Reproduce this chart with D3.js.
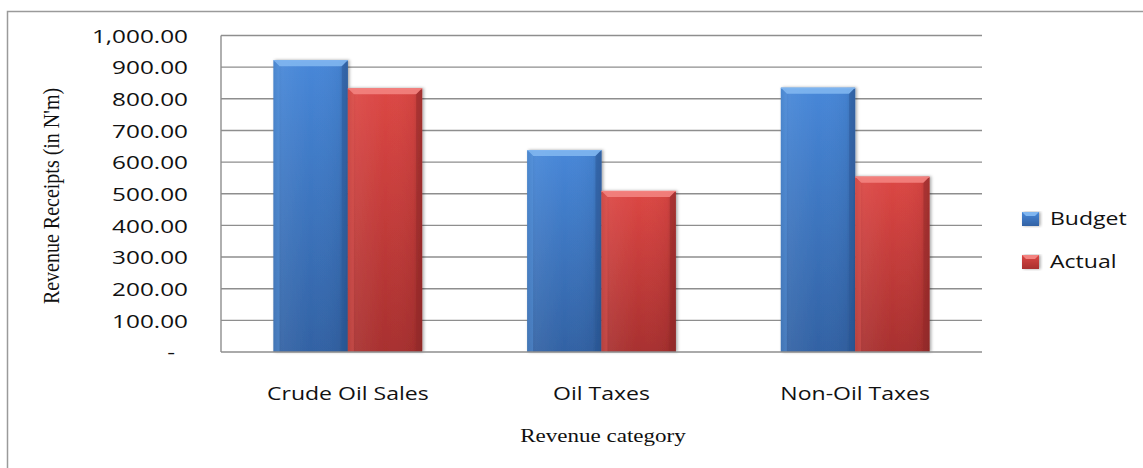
<!DOCTYPE html>
<html>
<head>
<meta charset="utf-8">
<script src="https://cdn.jsdelivr.net/npm/d3@7"></script>
<style>
  body { margin: 0; background: #fff; }
  svg { display: block; }
</style>
</head>
<body>
<svg id="chart" width="1143" height="468"></svg>
<script>
// Revenue receipts by category, budget vs actual (N'm)
const categories = ["Crude Oil Sales", "Oil Taxes", "Non-Oil Taxes"];
const seriesNames = ["Budget", "Actual"];
const budgetValues = [922, 638, 835];
const actualValues = [833, 509, 554];
const yTickValues = [0, 100, 200, 300, 400, 500, 600, 700, 800, 900, 1000];

const W = 1143, H = 468;
const plot = { left: 221, right: 982, top: 35.5, bottom: 352 };
const sx = 1.28; // horizontal text stretch
const bodyFont = "'Open Sans', 'Liberation Sans', sans-serif";
const serifFont = "'Liberation Serif', 'DejaVu Serif', serif";

const palette = {
  Budget: { top: "#4787d8", bottom: "#3262a4", bevelTop: "#80b6f0", bevelL: "#5b98e0", bevelR: "#2b5a99" },
  Actual: { top: "#dc4744", bottom: "#a8302f", bevelTop: "#f38380", bevelL: "#e05a56", bevelR: "#962a29" }
};

const svg = d3.select("#chart");
const defs = svg.append("defs");

// vertical gradients for bar bodies, plus a horizontal shading overlay
seriesNames.forEach(s => {
  const g = defs.append("linearGradient").attr("id", "grad-" + s)
    .attr("x1", 0).attr("y1", 0).attr("x2", 0).attr("y2", 1);
  g.append("stop").attr("offset", "0%").attr("stop-color", palette[s].top);
  g.append("stop").attr("offset", "100%").attr("stop-color", palette[s].bottom);
  const h = defs.append("linearGradient").attr("id", "hgrad-" + s)
    .attr("x1", 0).attr("y1", 0).attr("x2", 1).attr("y2", 0);
  h.append("stop").attr("offset", "0%").attr("stop-color", "#000").attr("stop-opacity", 0.12);
  h.append("stop").attr("offset", "12%").attr("stop-color", "#fff").attr("stop-opacity", 0.06);
  h.append("stop").attr("offset", "50%").attr("stop-color", "#fff").attr("stop-opacity", 0.0);
  h.append("stop").attr("offset", "88%").attr("stop-color", "#000").attr("stop-opacity", 0.04);
  h.append("stop").attr("offset", "100%").attr("stop-color", "#000").attr("stop-opacity", 0.2);
});
const shadow = defs.append("filter").attr("id", "shadow")
  .attr("x", "-20%").attr("y", "-5%").attr("width", "140%").attr("height", "115%");
shadow.append("feDropShadow").attr("dx", 1.5).attr("dy", 0).attr("stdDeviation", 1.6)
  .attr("flood-color", "#000").attr("flood-opacity", 0.35);

// outer chart frame
svg.append("rect")
  .attr("x", 7.5).attr("y", 11.5).attr("width", W + 20).attr("height", H + 20)
  .attr("fill", "#fff").attr("stroke", "#9a9a9a").attr("stroke-width", 1.5);

const x = d3.scaleBand().domain(categories)
  .range([plot.left, plot.right]).paddingInner(0.414).paddingOuter(0.207);
const xs = d3.scaleBand().domain(seriesNames).range([0, x.bandwidth()]);
const y = d3.scaleLinear().domain([0, 1000]).range([plot.bottom, plot.top]);

// horizontal gridlines
svg.append("g").selectAll("line")
  .data(yTickValues.filter(v => v > 0))
  .join("line")
  .attr("x1", plot.left).attr("x2", plot.right)
  .attr("y1", d => y(d)).attr("y2", d => y(d))
  .attr("stroke", "#8e8e8e").attr("stroke-width", 1.4);

// bars
const rows = categories.map((c, i) => ({ category: c, Budget: budgetValues[i], Actual: actualValues[i] }));
const barData = rows.flatMap(r => seriesNames.map(s => ({ category: r.category, series: s, value: r[s] })));

const bars = svg.append("g").selectAll("g.bar")
  .data(barData)
  .join("g").attr("class", "bar")
  .attr("filter", "url(#shadow)");

bars.each(function(d) {
  const g = d3.select(this);
  const x0 = x(d.category) + xs(d.series);
  const w = xs.bandwidth();
  const y0 = y(d.value), y1 = y(0);
  const b = 6, bt = 6;
  const p = palette[d.series];
  g.append("rect").attr("x", x0).attr("y", y0).attr("width", w).attr("height", y1 - y0)
    .attr("fill", `url(#grad-${d.series})`);
  g.append("rect").attr("x", x0).attr("y", y0).attr("width", w).attr("height", y1 - y0)
    .attr("fill", `url(#hgrad-${d.series})`);
  g.append("polygon")
    .attr("points", [[x0, y0], [x0 + w, y0], [x0 + w - b, y0 + bt], [x0 + b, y0 + bt]].join(" "))
    .attr("fill", p.bevelTop).attr("opacity", 0.9);
  g.append("polygon")
    .attr("points", [[x0, y0], [x0 + b, y0 + bt], [x0 + b, y1], [x0, y1]].join(" "))
    .attr("fill", p.bevelL).attr("opacity", 0.45);
  g.append("polygon")
    .attr("points", [[x0 + w, y0], [x0 + w - b, y0 + bt], [x0 + w - b, y1], [x0 + w, y1]].join(" "))
    .attr("fill", p.bevelR).attr("opacity", 0.55);
  g.append("line").attr("x1", x0).attr("x2", x0 + w).attr("y1", y0 + 0.5).attr("y2", y0 + 0.5)
    .attr("stroke", p.bevelTop).attr("stroke-width", 1);
});

// axis lines
svg.append("line").attr("x1", plot.left).attr("x2", plot.left)
  .attr("y1", plot.top).attr("y2", plot.bottom)
  .attr("stroke", "#8e8e8e").attr("stroke-width", 1.4);
svg.append("line").attr("x1", plot.left).attr("x2", plot.right)
  .attr("y1", plot.bottom).attr("y2", plot.bottom)
  .attr("stroke", "#8e8e8e").attr("stroke-width", 1.4);

// y axis labels
const yAxis = d3.axisLeft(y).tickValues(yTickValues).tickSize(0)
  .tickFormat(d => d === 0 ? "-" : d3.format(",.2f")(d));
const yg = svg.append("g").attr("transform", `translate(${plot.left},0)`).call(yAxis);
yg.select(".domain").remove();
yg.selectAll(".tick text")
  .attr("x", 0).attr("dy", "0.36em")
  .attr("transform", d => `translate(${d === 0 ? -46 : -33},0) scale(${sx},1)`)
  .attr("fill", "#111")
  .style("font-family", bodyFont).style("font-size", "19px");

// x axis labels
const xAxis = d3.axisBottom(x).tickSize(0);
const xg = svg.append("g").attr("transform", `translate(0,${plot.bottom})`).call(xAxis);
xg.select(".domain").remove();
xg.selectAll(".tick text")
  .attr("y", 0).attr("dy", 0)
  .attr("transform", `translate(0,48) scale(${sx},1)`)
  .attr("fill", "#111")
  .style("font-family", bodyFont).style("font-size", "18px");

// axis titles
svg.append("text")
  .attr("transform", `translate(59,196) scale(1.2,1) rotate(-90)`)
  .attr("text-anchor", "middle")
  .style("font-family", serifFont).style("font-size", "20px").attr("fill", "#111")
  .text("Revenue Receipts (in N'm)");
svg.append("text")
  .attr("transform", `translate(603,442) scale(${sx},1)`)
  .attr("text-anchor", "middle")
  .style("font-family", serifFont).style("font-size", "18px").attr("fill", "#111")
  .text("Revenue category");

// legend
const legend = svg.append("g").selectAll("g")
  .data(seriesNames).join("g")
  .attr("transform", (d, i) => `translate(1022,${219 + i * 43})`);
legend.append("rect")
  .attr("x", 0).attr("y", -7).attr("width", 17).attr("height", 14)
  .attr("fill", d => `url(#grad-${d})`).attr("filter", "url(#shadow)");
legend.append("polygon")
  .attr("points", "0,-7 17,-7 13,-3 4,-3")
  .attr("fill", d => palette[d].bevelTop);
legend.append("text")
  .attr("transform", `translate(28,0) scale(${sx},1)`)
  .attr("dy", "0.36em")
  .style("font-family", bodyFont).style("font-size", "18px").attr("fill", "#111")
  .text(d => d);
</script>
</body>
</html>
